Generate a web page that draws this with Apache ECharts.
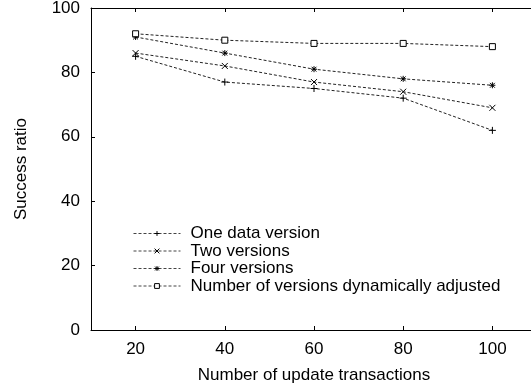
<!DOCTYPE html>
<html>
<head>
<meta charset="utf-8">
<script src="https://cdn.jsdelivr.net/npm/echarts@6/dist/echarts.min.js"></script>
<style>html,body{margin:0;padding:0;background:#fff}#c{width:531px;height:385px}</style>
</head>
<body>
<div id="c"></div>
<script>
var xValues = [20, 40, 60, 80, 100];
var xTicks = [20, 40, 60, 80, 100];
var yTicks = [0, 20, 40, 60, 80, 100];
var seriesNames = ['One data version', 'Two versions', 'Four versions', 'Number of versions dynamically adjusted'];
var oneVersion = [85, 77, 75, 72, 62];
var twoVersions = [86, 82, 77, 74, 69];
var fourVersions = [91, 86, 81, 78, 76];
var dynamicVersions = [92, 90, 89, 89, 88];

var FONT = '"Liberation Sans", Arial, sans-serif';
var plusPath = 'path://M0,5L10,5M5,0L5,10';
var crossPath = 'path://M0,0L10,10M10,0L0,10';
var starPath = 'path://M0,5L10,5M5,0L5,10M1,1L9,9M9,1L1,9';

function pts(arr) { return xValues.map(function (x, i) { return [x, arr[i]]; }); }
function mk(name, data, symbol, size) {
  return {
    name: name, type: 'line', data: pts(data),
    symbol: symbol, symbolSize: size, showSymbol: true,
    lineStyle: { color: '#222', width: 1, type: [3, 2] },
    itemStyle: { color: symbol === 'rect' ? '#fff' : 'none', borderColor: '#000', borderWidth: 1 },
    emphasis: { disabled: true }, animation: false
  };
}

var chart = echarts.init(document.getElementById('c'), null, { renderer: 'canvas' });
chart.setOption({
  animation: false,
  grid: { left: 91, top: 8, right: -6, bottom: 55, outerBoundsMode: 'none', containLabel: false },
  legend: {
    orient: 'vertical', left: 133, top: 225,
    itemWidth: 47, itemHeight: 6, itemGap: 0.5,
    padding: 0,
    selectedMode: false,
    itemStyle: { color: 'none', borderColor: '#000', borderWidth: 1 },
    lineStyle: { color: '#444', width: 1, type: [3, 2] },
    textStyle: { fontFamily: FONT, fontSize: 17, color: '#000', padding: [0, 0, 0, 5] },
    data: seriesNames.map(function (n, i) {
      return {
        name: n,
        itemStyle: { color: i === 3 ? '#fff' : 'none', borderColor: '#000', borderWidth: 1 }
      };
    })
  },
  xAxis: [{
    type: 'value', min: 10, max: 110, position: 'bottom',
    name: 'Number of update transactions', nameLocation: 'middle', nameGap: 37,
    nameTextStyle: { fontFamily: FONT, fontSize: 17, color: '#000' },
    axisLine: { show: true, lineStyle: { color: '#000', width: 1 } },
    axisTick: { show: true, inside: true, length: 4, customValues: xTicks, lineStyle: { color: '#000' } },
    axisLabel: { customValues: xTicks, fontFamily: FONT, fontSize: 17, color: '#000', margin: 11 },
    splitLine: { show: false }
  }, {
    type: 'value', min: 10, max: 110, position: 'top',
    axisLine: { show: true, onZero: false, lineStyle: { color: '#000', width: 1 } },
    axisTick: { show: true, inside: true, length: 4, customValues: xTicks, lineStyle: { color: '#000' } },
    axisLabel: { show: false },
    splitLine: { show: false }
  }],
  yAxis: [{
    type: 'value', min: 0, max: 100, interval: 20,
    name: 'Success ratio', nameLocation: 'middle', nameGap: 61, nameRotate: 90,
    nameTextStyle: { fontFamily: FONT, fontSize: 17, color: '#000' },
    axisLine: { show: true, lineStyle: { color: '#000', width: 1 } },
    axisTick: { show: true, inside: true, length: 4, lineStyle: { color: '#000' } },
    axisLabel: { fontFamily: FONT, fontSize: 17, color: '#000', margin: 11,
      customValues: yTicks },
    splitLine: { show: false }
  }],
  series: [
    mk(seriesNames[0], oneVersion, plusPath, 7),
    mk(seriesNames[1], twoVersions, crossPath, 6),
    mk(seriesNames[2], fourVersions, starPath, 6),
    mk(seriesNames[3], dynamicVersions, 'rect', 6)
  ]
});
</script>
</body>
</html>
